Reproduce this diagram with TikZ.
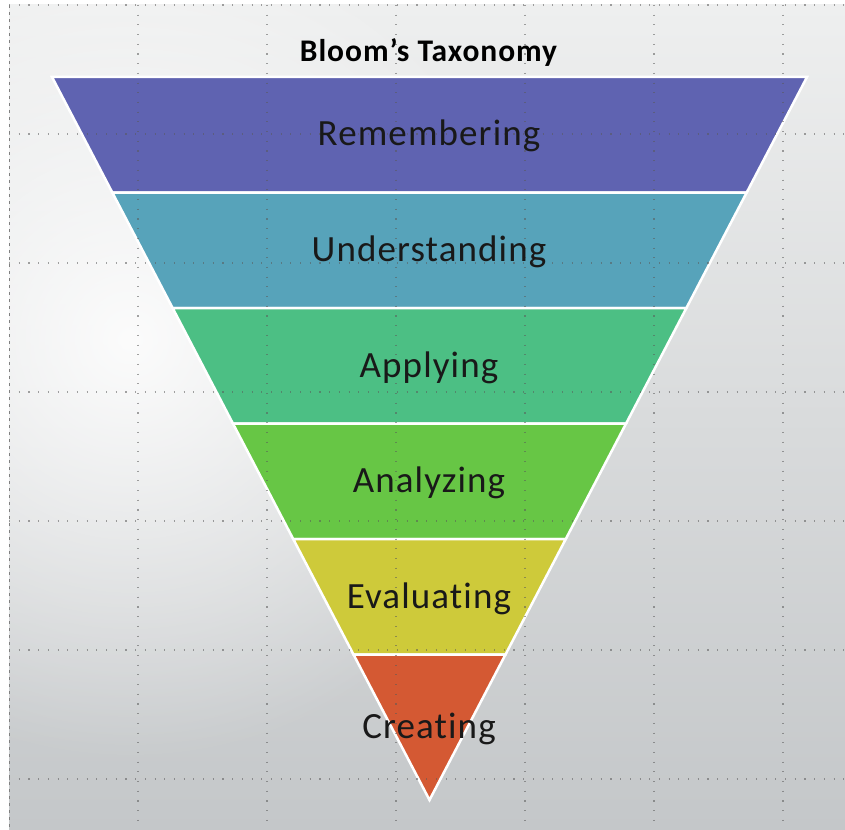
\documentclass[tikz,border=0pt]{standalone}
\usepackage{fontspec}
\setmainfont{Carlito}[Ligatures=NoCommon]
\newfontfamily\levelfont{Carlito}[Ligatures=NoCommon, LetterSpace=3]
\usepackage{tikz}
\usetikzlibrary{positioning,fadings}

\definecolor{bgtop}{RGB}{238,239,239}
\definecolor{bgbot}{RGB}{196,199,201}
\definecolor{remcol}{HTML}{5F63B1}
\definecolor{undcol}{HTML}{57A3BA}
\definecolor{appcol}{HTML}{4CBF84}
\definecolor{anacol}{HTML}{67C645}
\definecolor{evacol}{HTML}{CECA3A}
\definecolor{crecol}{HTML}{D45933}
\tikzfading[name=glow, inner color=transparent!0, outer color=transparent!100]

\begin{document}
\begin{tikzpicture}[x=1pt,y=-1pt,
    band/.style={draw=white, line width=2.5pt},
    level/.style={font=\levelfont\fontsize{37}{40}\selectfont, text=black!90, anchor=base, inner sep=0pt},
    heading/.style={font=\levelfont\fontsize{31.5}{34}\selectfont\bfseries, anchor=base, inner sep=0pt},
    gridline/.style={black!65, line width=1.1pt, dash pattern=on 1.1pt off 8.6pt, opacity=0.55}]
    \useasboundingbox (0,0) rectangle (845,829);

    % background
    \shade[top color=bgtop, bottom color=bgbot] (9,5) rectangle (845,829);
    \begin{scope}
        \clip (9,5) rectangle (845,829);
        \fill[white, opacity=0.9, path fading=glow] (130,340) circle (420);
    \end{scope}

    % bands
    \foreach \lbl/\col [count=\i from 0] in {Remembering/remcol,Understanding/undcol,Applying/appcol,Analyzing/anacol,Evaluating/evacol}{
        \pgfmathsetmacro\ytop{77+115.5*\i}
        \pgfmathsetmacro\ybot{\ytop+115.5}
        \pgfmathsetmacro\dl{0.5221*(\ytop-77)}
        \pgfmathsetmacro\dr{0.5221*(\ybot-77)}
        \filldraw[band, fill=\col] (52+\dl,\ytop) -- (807-\dl,\ytop) -- (807-\dr,\ybot) -- (52+\dr,\ybot) -- cycle;
    }
    \filldraw[band, fill=crecol] (353.5,654.5) -- (505.5,654.5) -- (429.5,800) -- cycle;

    % grid
    \foreach \gx in {138,267,396,525,654,783}
        \draw[gridline] (\gx,5) -- (\gx,829);
    \foreach \gy in {5,134,263,392,521,650,779}
        \draw[gridline] (9,\gy) -- (845,\gy);
    \draw[black!50, line width=1pt, dash pattern=on 3pt off 4pt] (9,5) -- (9,829);

    % labels
    \node[heading] (title) at (428.5,61.5) {Bloom’s Taxonomy};
    \foreach \lbl [count=\i from 0] in {Remembering,Understanding,Applying,Analyzing,Evaluating}
        \node[level] (\lbl) at (429,77+115.5*\i+69) {\lbl};
    \node[level] (Creating) at (429,738) {Creating};
\end{tikzpicture}
\end{document}
